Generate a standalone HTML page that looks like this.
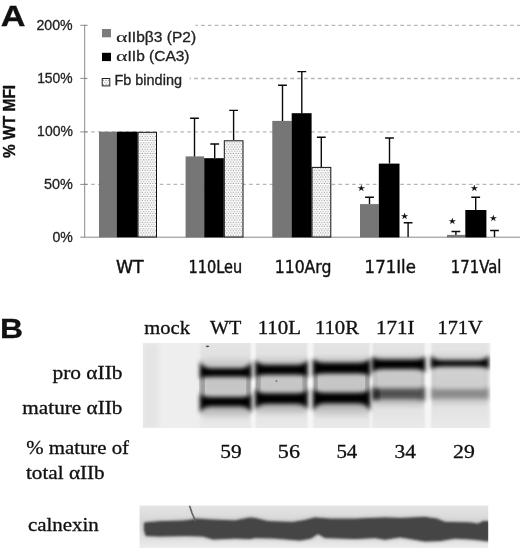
<!DOCTYPE html>
<html>
<head>
<meta charset="utf-8">
<title>Figure</title>
<style>
html,body{margin:0;padding:0;background:#fff;}
body{width:520px;height:548px;overflow:hidden;}
svg{display:block;}
</style>
</head>
<body>
<svg width="520" height="548" viewBox="0 0 520 548">
<rect width="520" height="548" fill="#fff"/>
<defs>
  <pattern id="dots" x="0" y="0" width="2.6" height="4.3" patternUnits="userSpaceOnUse">
    <rect width="2.6" height="4.3" fill="#fff"/>
    <rect x="0.2" y="0.3" width="1" height="1" fill="#7a7a7a"/>
    <rect x="1.5" y="2.45" width="1" height="1" fill="#7a7a7a"/>
  </pattern>
  <filter id="b1" x="-20%" y="-50%" width="140%" height="200%"><feGaussianBlur stdDeviation="1.9"/></filter>
  <filter id="b2" x="-20%" y="-50%" width="140%" height="200%"><feGaussianBlur stdDeviation="2.5"/></filter>
  <filter id="b3" x="-20%" y="-50%" width="140%" height="200%"><feGaussianBlur stdDeviation="1"/></filter>
  <clipPath id="blotA"><rect x="142.8" y="343" width="347.6" height="85"/></clipPath>
  <clipPath id="blotB"><rect x="139.6" y="505.4" width="348.6" height="43"/></clipPath>

<linearGradient id="laneg" x1="0" y1="0" x2="0" y2="1">
  <stop offset="0" stop-color="#e4e4e4"/><stop offset="0.5" stop-color="#dadada"/><stop offset="1" stop-color="#eaeaea"/>
</linearGradient>
<linearGradient id="calg" x1="0" y1="0" x2="0" y2="1">
  <stop offset="0" stop-color="#e6e6e6"/><stop offset="0.4" stop-color="#d6d6d6"/><stop offset="0.75" stop-color="#e0e0e0"/><stop offset="1" stop-color="#f0f0f0"/>
</linearGradient>
<filter id="b5" x="-20%" y="-80%" width="140%" height="260%"><feGaussianBlur stdDeviation="2"/></filter>
<filter id="b4" x="-50%" y="-20%" width="200%" height="140%"><feGaussianBlur stdDeviation="0.5"/></filter>
</defs>

<!-- ===== Panel A ===== -->
<!-- gridlines -->
<g stroke="#b6b6b6" stroke-width="1.3" stroke-dasharray="3.7,3.17" fill="none">
  <line x1="84.2" y1="25.4" x2="520" y2="25.4"/>
  <line x1="84.2" y1="78.5" x2="520" y2="78.5"/>
  <line x1="84.2" y1="131.9" x2="520" y2="131.9"/>
  <line x1="84.2" y1="184.4" x2="520" y2="184.4"/>
</g>
<rect x="86" y="20" width="109.5" height="10" fill="#fff"/>
<rect x="86" y="70" width="103.5" height="20" fill="#fff"/>
<!-- axes -->
<g stroke="#8a8a8a" stroke-width="1" fill="none">
  <line x1="84.7" y1="25" x2="84.7" y2="237.5"/>
  <line x1="80.3" y1="25.3" x2="87.6" y2="25.3"/>
  <line x1="80.3" y1="78.4" x2="87.6" y2="78.4"/>
  <line x1="80.3" y1="131.9" x2="87.6" y2="131.9"/>
  <line x1="80.3" y1="184.4" x2="87.6" y2="184.4"/>
  <line x1="80.3" y1="237.2" x2="520" y2="237.2"/>
</g>

<!-- legend -->
<rect x="102" y="29" width="9" height="8.3" fill="#7c7c7c"/>
<rect x="102" y="52.8" width="9" height="8.3" fill="#000"/>
<rect x="102.2" y="78.5" width="7.6" height="7.4" fill="url(#dots)" stroke="#222" stroke-width="1"/>

<!-- bars -->
<g>
  <rect x="99" y="131.7" width="18" height="105.6" fill="#767676"/>
  <rect x="116.9" y="131.7" width="20.8" height="105.6" fill="#000"/>
  <rect x="138" y="132.3" width="18.5" height="104.7" fill="url(#dots)" stroke="#111" stroke-width="1"/>
  <rect x="185.6" y="156.4" width="18.6" height="81" fill="#767676"/>
  <rect x="204.2" y="158.2" width="19.6" height="79.2" fill="#000"/>
  <rect x="224.3" y="140.8" width="18.7" height="96.2" fill="url(#dots)" stroke="#111" stroke-width="1"/>
  <rect x="272.3" y="120.9" width="19.5" height="116.5" fill="#767676"/>
  <rect x="291.7" y="113.2" width="19.9" height="124.2" fill="#000"/>
  <rect x="312" y="167.4" width="18.8" height="69.6" fill="url(#dots)" stroke="#111" stroke-width="1"/>
  <rect x="360" y="204.1" width="18.8" height="33.3" fill="#767676"/>
  <rect x="378.8" y="163.6" width="20.7" height="73.8" fill="#000"/>
  <rect x="447" y="234.9" width="18.3" height="2.5" fill="#767676"/>
  <rect x="465.3" y="210" width="21.1" height="27.4" fill="#000"/>
</g>
<!-- error bars -->
<g stroke="#0a0a0a" stroke-width="1.4" fill="none">
  <path d="M194.5 156.5V118.2M190.1 118.2h8.8"/>
  <path d="M214.7 158.1V144M210.3 144h8.8"/>
  <path d="M233.6 140V110.4M229.2 110.4h8.8"/>
  <path d="M282.5 120.9V85.2M278.1 85.2h8.8"/>
  <path d="M301.8 113.2V71.6M297.4 71.6h8.8"/>
  <path d="M321.3 167V137.3M316.9 137.3h8.8"/>
  <path d="M369.5 204V197.2M365.1 197.2h8.8"/>
  <path d="M389.5 163.6V138M385.1 138h8.8"/>
  <path d="M408.1 237V222.8M403.7 222.8h8.8"/>
  <path d="M455.9 235V231.5M451.5 231.5h8.8"/>
  <path d="M475.7 210V197.2M471.3 197.2h8.8"/>
  <path d="M494.5 237V230.5M490.1 230.5h8.8"/>
</g>
<g clip-path="url(#blotA)">
<rect x="142" y="342" width="350" height="88" fill="#eeeeee"/>
<rect x="200.5" y="342" width="50.3" height="88" fill="url(#laneg)" filter="url(#b3)"/>
<rect x="255.8" y="342" width="51.4" height="88" fill="url(#laneg)" filter="url(#b3)"/>
<rect x="313.5" y="342" width="56.1" height="88" fill="url(#laneg)" filter="url(#b3)"/>
<rect x="372.6" y="342" width="52.0" height="88" fill="url(#laneg)" filter="url(#b3)"/>
<rect x="431.4" y="342" width="56.8" height="88" fill="url(#laneg)" filter="url(#b3)"/>
<rect x="201.5" y="359.5" width="48.3" height="58.0" fill="#000" opacity="0.09" filter="url(#b2)"/>
<rect x="256.8" y="358.0" width="49.4" height="56.5" fill="#000" opacity="0.09" filter="url(#b2)"/>
<rect x="314.5" y="357.0" width="54.1" height="59.0" fill="#000" opacity="0.09" filter="url(#b2)"/>
<rect x="373.6" y="355.0" width="50.0" height="50.5" fill="#000" opacity="0.08" filter="url(#b2)"/>
<rect x="432.4" y="354.0" width="54.8" height="49.5" fill="#000" opacity="0.05" filter="url(#b2)"/>
<rect x="200.2" y="376.0" width="4" height="20.0" fill="#000" opacity="0.42" filter="url(#b2)"/>
<rect x="247.1" y="376.0" width="4" height="20.0" fill="#000" opacity="0.42" filter="url(#b2)"/>
<rect x="201.5" y="406.0" width="48.3" height="7" fill="#000" opacity="0.1" filter="url(#b2)"/>
<rect x="255.5" y="375.0" width="4" height="16.0" fill="#000" opacity="0.42" filter="url(#b2)"/>
<rect x="303.5" y="375.0" width="4" height="16.0" fill="#000" opacity="0.42" filter="url(#b2)"/>
<rect x="256.8" y="403.5" width="49.4" height="7" fill="#000" opacity="0.1" filter="url(#b2)"/>
<rect x="313.2" y="374.0" width="4" height="17.0" fill="#000" opacity="0.42" filter="url(#b2)"/>
<rect x="365.9" y="374.0" width="4" height="17.0" fill="#000" opacity="0.42" filter="url(#b2)"/>
<rect x="314.5" y="403.0" width="54.1" height="7" fill="#000" opacity="0.1" filter="url(#b2)"/>
<rect x="372.3" y="370.0" width="4" height="19.5" fill="#000" opacity="0.1" filter="url(#b2)"/>
<rect x="420.9" y="370.0" width="4" height="19.5" fill="#000" opacity="0.1" filter="url(#b2)"/>
<rect x="373.6" y="398.7" width="50.0" height="7" fill="#000" opacity="0.05" filter="url(#b2)"/>
<rect x="431.1" y="366.5" width="4" height="24.5" fill="#000" opacity="0.04" filter="url(#b2)"/>
<rect x="484.5" y="366.5" width="4" height="24.5" fill="#000" opacity="0.04" filter="url(#b2)"/>
<rect x="432.4" y="398.0" width="54.8" height="7" fill="#000" opacity="0.03" filter="url(#b2)"/>
<rect x="251.6" y="342" width="3.4" height="88" fill="#f7f7f7" filter="url(#b3)"/>
<rect x="308" y="342" width="4.8" height="88" fill="#f7f7f7" filter="url(#b3)"/>
<rect x="370.2" y="342" width="1.8" height="88" fill="#f7f7f7" filter="url(#b3)"/>
<rect x="425.4" y="342" width="5.2" height="88" fill="#f7f7f7" filter="url(#b3)"/>
<path d="M199.9 360.5 Q202.0 368.3 211.2 368.3 L240.1 368.3 Q249.3 368.3 251.4 360.5 L251.4 379.0 Q249.3 376.8 240.1 376.8 L211.2 376.8 Q202.0 376.8 199.9 379.0 Z" fill="#000" opacity="1" filter="url(#b1)"/>
<path d="M199.9 393.0 Q202.0 397.1 211.2 397.1 L240.1 397.1 Q249.3 397.1 251.4 393.0 L251.4 413.5 Q249.3 406.6 240.1 406.6 L211.2 406.6 Q202.0 406.6 199.9 413.5 Z" fill="#000" opacity="1" filter="url(#b1)"/>
<path d="M255.2 359.0 Q257.3 364.8 266.8 364.8 L296.2 364.8 Q305.7 364.8 307.8 359.0 L307.8 378.0 Q305.7 374.8 296.2 374.8 L266.8 374.8 Q257.3 374.8 255.2 378.0 Z" fill="#000" opacity="1" filter="url(#b1)"/>
<path d="M255.2 388.0 Q257.3 393.3 266.8 393.3 L296.2 393.3 Q305.7 393.3 307.8 388.0 L307.8 410.5 Q305.7 404.1 296.2 404.1 L266.8 404.1 Q257.3 404.1 255.2 410.5 Z" fill="#000" opacity="1" filter="url(#b1)"/>
<path d="M312.9 358.0 Q315.2 362.8 325.5 362.8 L357.6 362.8 Q367.9 362.8 370.2 358.0 L370.2 377.0 Q367.9 373.6 357.6 373.6 L325.5 373.6 Q315.2 373.6 312.9 377.0 Z" fill="#000" opacity="1" filter="url(#b1)"/>
<path d="M312.9 388.0 Q315.2 392.8 325.5 392.8 L357.6 392.8 Q367.9 392.8 370.2 388.0 L370.2 412.0 Q367.9 403.6 357.6 403.6 L325.5 403.6 Q315.2 403.6 312.9 412.0 Z" fill="#000" opacity="1" filter="url(#b1)"/>
<path d="M372.0 356.0 Q374.1 359.6 383.7 359.6 L413.5 359.6 Q423.1 359.6 425.2 356.0 L425.2 373.0 Q423.1 369.1 413.5 369.1 L383.7 369.1 Q374.1 369.1 372.0 373.0 Z" fill="#000" opacity="1" filter="url(#b1)"/>
<path d="M372.0 386.5 Q374.1 388.6 383.7 388.6 L413.5 388.6 Q423.1 388.6 425.2 386.5 L425.2 401.5 Q423.1 399.3 413.5 399.3 L383.7 399.3 Q374.1 399.3 372.0 401.5 Z" fill="#222" opacity="0.72" filter="url(#b5)"/>
<path d="M430.8 355.0 Q433.1 360.3 443.6 360.3 L476.0 360.3 Q486.5 360.3 488.8 355.0 L488.8 369.5 Q486.5 366.6 476.0 366.6 L443.6 366.6 Q433.1 366.6 430.8 369.5 Z" fill="#000" opacity="1" filter="url(#b1)"/>
<path d="M430.8 388.0 Q433.1 389.3 443.6 389.3 L476.0 389.3 Q486.5 389.3 488.8 388.0 L488.8 399.5 Q486.5 398.6 476.0 398.6 L443.6 398.6 Q433.1 398.6 430.8 399.5 Z" fill="#333" opacity="0.44" filter="url(#b5)"/>
<ellipse cx="376.5" cy="394.5" rx="3.2" ry="5" fill="#000" opacity="0.6" filter="url(#b1)"/>
<ellipse cx="207.5" cy="346.3" rx="1.8" ry="0.9" fill="#555" filter="url(#b4)"/>
<ellipse cx="276.5" cy="381" rx="1" ry="0.9" fill="#777" filter="url(#b4)"/>
<rect x="142.8" y="343" width="16" height="85" fill="#000" opacity="0.035" filter="url(#b2)"/>
</g><g clip-path="url(#blotB)">
<rect x="138" y="504" width="352" height="46" fill="url(#calg)"/>
<polygon points="144.5,523 160,521.8 185,521 192,520 195,519 210,520 235,521 250,518 255,518.5 268,521.7 293,522.5 305,520.5 315,518 330,519.2 355,519.2 370,518.5 385,518 400,518.5 425,517.5 437,519.2 445,522.5 470,523 478,524.2 483,521.8 489,521.8 489,541 475,539.2 455,538 440,540.5 425,541 400,536.8 385,539.2 375,537.5 355,538.5 325,537.5 318,533.5 311,538 300,540 275,538 255,537.5 250,538.5 235,538 213,539 203,536 185,535.5 160,536 146,535.5 144.5,530" fill="#000" opacity="0.25" filter="url(#b2)"/>
<polygon points="144.5,523 160,521.8 185,521 192,520 195,519 210,520 235,521 250,518 255,518.5 268,521.7 293,522.5 305,520.5 315,518 330,519.2 355,519.2 370,518.5 385,518 400,518.5 425,517.5 437,519.2 445,522.5 470,523 478,524.2 483,521.8 489,521.8 489,541 475,539.2 455,538 440,540.5 425,541 400,536.8 385,539.2 375,537.5 355,538.5 325,537.5 318,533.5 311,538 300,540 275,538 255,537.5 250,538.5 235,538 213,539 203,536 185,535.5 160,536 146,535.5 144.5,530" fill="#444" filter="url(#b3)" stroke="#444" stroke-width="1" stroke-linejoin="round"/>
<path d="M189.5 505.5L192 513L195.5 521" stroke="#666" stroke-width="1.7" fill="none" filter="url(#b4)"/>
</g>
<g>
<text transform="translate(0.80,25.5) scale(1.1893,1)" font-family='"Liberation Sans",Arial,sans-serif' font-weight="bold" font-size="28.8" fill="#111" stroke="#111" stroke-width="0.3">A</text>
<text transform="translate(-0.02,338.2) scale(1.1610,1)" font-family='"Liberation Sans",Arial,sans-serif' font-weight="bold" font-size="27.5" fill="#111" stroke="#111" stroke-width="0.3">B</text>
<text transform="translate(15.1,157.93) rotate(-90) scale(0.9452,1)" font-family='"Liberation Sans",Arial,sans-serif' font-weight="bold" font-size="16.4" fill="#111" stroke="#111" stroke-width="0.35">% WT MFI</text>
<text transform="translate(36.39,30.0) scale(1.0125,1)" font-family='"Liberation Sans",Arial,sans-serif' font-weight="normal" font-size="14" fill="#222" stroke="#222" stroke-width="0.3">200%</text>
<text transform="translate(37.13,83.0) scale(0.9913,1)" font-family='"Liberation Sans",Arial,sans-serif' font-weight="normal" font-size="14" fill="#222" stroke="#222" stroke-width="0.3">150%</text>
<text transform="translate(37.12,136.4) scale(0.9971,1)" font-family='"Liberation Sans",Arial,sans-serif' font-weight="normal" font-size="14" fill="#222" stroke="#222" stroke-width="0.3">100%</text>
<text transform="translate(43.96,188.9) scale(1.0298,1)" font-family='"Liberation Sans",Arial,sans-serif' font-weight="normal" font-size="14" fill="#222" stroke="#222" stroke-width="0.3">50%</text>
<text transform="translate(52.40,241.8) scale(1.0074,1)" font-family='"Liberation Sans",Arial,sans-serif' font-weight="normal" font-size="14" fill="#222" stroke="#222" stroke-width="0.3">0%</text>
<text transform="translate(127.54,41.5) scale(1.1107,1)" font-family='"Liberation Sans",Arial,sans-serif' font-weight="normal" font-size="14" fill="#222" stroke="#222" stroke-width="0.3">IIbβ3 (P2)</text>
<text transform="translate(127.54,60.6) scale(1.1067,1)" font-family='"Liberation Sans",Arial,sans-serif' font-weight="normal" font-size="14" fill="#222" stroke="#222" stroke-width="0.3">IIb (CA3)</text>
<text transform="translate(114.38,85) scale(1.0353,1)" font-family='"Liberation Sans",Arial,sans-serif' font-weight="normal" font-size="14" fill="#222" stroke="#222" stroke-width="0.3">Fb binding</text>
<text transform="translate(116.10,41.8) scale(1.5170,1)" font-family='"Liberation Serif","Times New Roman",serif' font-weight="normal" font-size="14.5" fill="#222" stroke="#222" stroke-width="0.12">α</text>
<text transform="translate(116.10,61) scale(1.5170,1)" font-family='"Liberation Serif","Times New Roman",serif' font-weight="normal" font-size="14.5" fill="#222" stroke="#222" stroke-width="0.12">α</text>
<text transform="translate(357.24,190.9) scale(1.0617,1)" font-family='"DejaVu Sans",sans-serif' font-weight="normal" font-size="8.6" fill="#111" stroke="#111" stroke-width="0.1">★</text>
<text transform="translate(400.54,218.5) scale(1.0617,1)" font-family='"DejaVu Sans",sans-serif' font-weight="normal" font-size="8.6" fill="#111" stroke="#111" stroke-width="0.1">★</text>
<text transform="translate(448.24,224.2) scale(1.0617,1)" font-family='"DejaVu Sans",sans-serif' font-weight="normal" font-size="8.6" fill="#111" stroke="#111" stroke-width="0.1">★</text>
<text transform="translate(470.34,191.0) scale(1.0617,1)" font-family='"DejaVu Sans",sans-serif' font-weight="normal" font-size="8.6" fill="#111" stroke="#111" stroke-width="0.1">★</text>
<text transform="translate(489.34,221.2) scale(1.0617,1)" font-family='"DejaVu Sans",sans-serif' font-weight="normal" font-size="8.6" fill="#111" stroke="#111" stroke-width="0.1">★</text>
<text transform="translate(116.00,272.9) scale(0.9899,1)" font-family='"DejaVu Sans","Liberation Sans",sans-serif' font-weight="normal" font-size="17.5" fill="#111" stroke="#111" stroke-width="0.45">WT</text>
<text transform="translate(188.54,272.9) scale(0.8295,1)" font-family='"DejaVu Sans","Liberation Sans",sans-serif' font-weight="normal" font-size="17.5" fill="#111" stroke="#111" stroke-width="0.45">110Leu</text>
<text transform="translate(274.71,272.9) scale(0.8955,1)" font-family='"DejaVu Sans","Liberation Sans",sans-serif' font-weight="normal" font-size="17.5" fill="#111" stroke="#111" stroke-width="0.45">110Arg</text>
<text transform="translate(364.61,272.9) scale(0.9454,1)" font-family='"DejaVu Sans","Liberation Sans",sans-serif' font-weight="normal" font-size="17.5" fill="#111" stroke="#111" stroke-width="0.45">171Ile</text>
<text transform="translate(450.80,272.9) scale(0.8489,1)" font-family='"DejaVu Sans","Liberation Sans",sans-serif' font-weight="normal" font-size="17.5" fill="#111" stroke="#111" stroke-width="0.45">171Val</text>
<text transform="translate(144.29,334.3) scale(1.0655,1)" font-family='"Liberation Serif","Times New Roman",serif' font-weight="normal" font-size="19.3" fill="#111" stroke="#111" stroke-width="0.32">mock</text>
<text transform="translate(209.96,334.3) scale(1.0456,1)" font-family='"Liberation Serif","Times New Roman",serif' font-weight="normal" font-size="19.3" fill="#111" stroke="#111" stroke-width="0.32">WT</text>
<text transform="translate(257.71,334.3) scale(1.0798,1)" font-family='"Liberation Serif","Times New Roman",serif' font-weight="normal" font-size="19.3" fill="#111" stroke="#111" stroke-width="0.32">110L</text>
<text transform="translate(314.93,334.3) scale(1.0734,1)" font-family='"Liberation Serif","Times New Roman",serif' font-weight="normal" font-size="19.3" fill="#111" stroke="#111" stroke-width="0.32">110R</text>
<text transform="translate(376.00,334.3) scale(1.0901,1)" font-family='"Liberation Serif","Times New Roman",serif' font-weight="normal" font-size="19.3" fill="#111" stroke="#111" stroke-width="0.32">171I</text>
<text transform="translate(437.57,334.3) scale(1.0482,1)" font-family='"Liberation Serif","Times New Roman",serif' font-weight="normal" font-size="19.3" fill="#111" stroke="#111" stroke-width="0.32">171V</text>
<text transform="translate(52.43,378.7) scale(1.0991,1)" font-family='"Liberation Serif","Times New Roman",serif' font-weight="normal" font-size="19.5" fill="#111" stroke="#111" stroke-width="0.32">pro αIIb</text>
<text transform="translate(22.37,414.3) scale(1.0880,1)" font-family='"Liberation Serif","Times New Roman",serif' font-weight="normal" font-size="19.5" fill="#111" stroke="#111" stroke-width="0.32">mature αIIb</text>
<text transform="translate(26.25,454.2) scale(1.0670,1)" font-family='"Liberation Serif","Times New Roman",serif' font-weight="normal" font-size="19.5" fill="#111" stroke="#111" stroke-width="0.32">% mature of</text>
<text transform="translate(25.91,479.2) scale(1.0880,1)" font-family='"Liberation Serif","Times New Roman",serif' font-weight="normal" font-size="19.5" fill="#111" stroke="#111" stroke-width="0.32">total αIIb</text>
<text transform="translate(27.95,531.1) scale(1.0726,1)" font-family='"Liberation Serif","Times New Roman",serif' font-weight="normal" font-size="19.5" fill="#111" stroke="#111" stroke-width="0.32">calnexin</text>
<text transform="translate(220.36,457.6) scale(1.0955,1)" font-family='"Liberation Serif","Times New Roman",serif' font-weight="normal" font-size="19.5" fill="#111" stroke="#111" stroke-width="0.32">59</text>
<text transform="translate(277.81,457.6) scale(1.1354,1)" font-family='"Liberation Serif","Times New Roman",serif' font-weight="normal" font-size="19.5" fill="#111" stroke="#111" stroke-width="0.32">56</text>
<text transform="translate(336.38,457.6) scale(1.0736,1)" font-family='"Liberation Serif","Times New Roman",serif' font-weight="normal" font-size="19.5" fill="#111" stroke="#111" stroke-width="0.32">54</text>
<text transform="translate(394.60,457.6) scale(1.0989,1)" font-family='"Liberation Serif","Times New Roman",serif' font-weight="normal" font-size="19.5" fill="#111" stroke="#111" stroke-width="0.32">34</text>
<text transform="translate(453.08,457.6) scale(1.1153,1)" font-family='"Liberation Serif","Times New Roman",serif' font-weight="normal" font-size="19.5" fill="#111" stroke="#111" stroke-width="0.32">29</text>
</g>
</svg>
</body>
</html>
